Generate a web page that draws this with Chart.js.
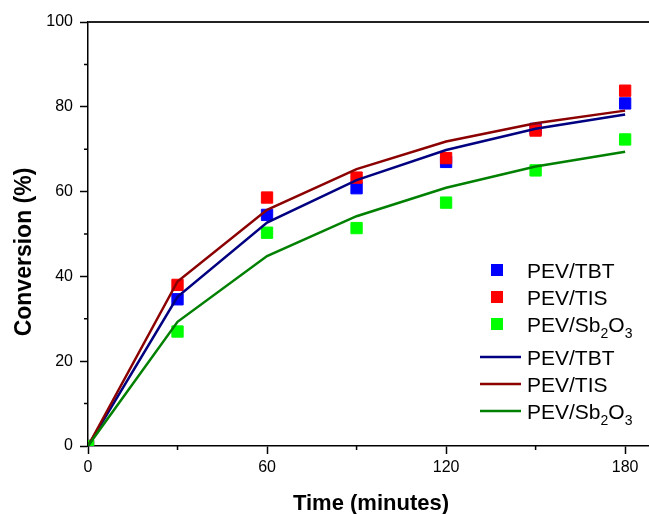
<!DOCTYPE html>
<html><head><meta charset="utf-8">
<script src="https://cdn.jsdelivr.net/npm/chart.js@4.4.0/dist/chart.umd.min.js"></script>
<style>html,body{margin:0;padding:0;background:#fff}#wrap{width:649px;height:514px;position:relative}</style>
</head><body><div id="wrap"><canvas id="c"></canvas></div>
<script>
const times = [0, 30, 60, 90, 120, 150, 180];
const tbtPoints = [0, 34.6, 54.5, 60.8, 67.0, 74.8, 80.8];
const tisPoints = [0, 38.0, 58.6, 63.3, 67.9, 74.4, 83.8];
const sbPoints  = [0, 27.0, 50.3, 51.4, 57.4, 65.0, 72.3];
const tbtFit = [0, 35.2, 52.7, 62.7, 69.8, 74.8, 78.2];
const tisFit = [0, 38.8, 55.7, 65.3, 71.8, 76.1, 79.1];
const sbFit  = [0, 29.3, 44.8, 54.2, 60.9, 65.9, 69.4];
const xMajorTicks = [0, 60, 120, 180];
const xMinorTicks = [30, 90, 150];
const yMajorTicks = [0, 20, 40, 60, 80, 100];
const yMinorTicks = [10, 30, 50, 70, 90];
const seriesLabels = ['PEV/TBT', 'PEV/TIS', 'PEV/Sb_2O_3'];
const xTitle = 'Time (minutes)';
const yTitle = 'Conversion (%)';

const pointColors = ['#0000FF', '#FF0000', '#00FF00'];
const lineColors = ['#000080', '#8B0000', '#008000'];
const FONT = '"Liberation Sans", Arial, sans-serif';

const toXY = ys => times.map((t, i) => ({x: t, y: ys[i]}));

function pts(label, ys, color, order) {
  return {type: 'scatter', label, data: toXY(ys), order,
    pointStyle: 'rect', pointRadius: 8, pointHoverRadius: 8,
    backgroundColor: color, borderColor: color, pointBorderWidth: 1, showLine: false};
}
function ln(label, ys, color, order) {
  return {type: 'line', label, data: toXY(ys), order,
    borderColor: color, backgroundColor: color, borderWidth: 2.5,
    pointRadius: 0, pointHoverRadius: 0, tension: 0, fill: false};
}

function drawLabel(ctx, text, x, y, size) {
  // '_d' marks a subscript character
  let cx = x;
  for (let i = 0; i < text.length; i++) {
    let ch = text[i], sub = false;
    if (ch === '_' && i + 1 < text.length) { ch = text[++i]; sub = true; }
    ctx.font = (sub ? Math.round(size * 0.68) : size) + 'px ' + FONT;
    ctx.fillText(ch, cx, sub ? y + 6 : y);
    cx += ctx.measureText(ch).width;
  }
}

const extras = {
  id: 'extras',
  afterDraw(chart) {
    const ctx = chart.ctx, xs = chart.scales.x, ys = chart.scales.y, a = chart.chartArea;
    ctx.save();
    // top frame
    ctx.strokeStyle = '#222'; ctx.lineWidth = 2;
    ctx.beginPath(); ctx.moveTo(a.left, a.top); ctx.lineTo(chart.width, a.top); ctx.stroke();
    // minor ticks
    ctx.strokeStyle = '#000'; ctx.lineWidth = 1.5;
    ctx.beginPath();
    xMinorTicks.forEach(v => { const p = xs.getPixelForValue(v); ctx.moveTo(p, a.bottom); ctx.lineTo(p, a.bottom + 4); });
    yMinorTicks.forEach(v => { const p = ys.getPixelForValue(v); ctx.moveTo(a.left, p); ctx.lineTo(a.left - 4, p); });
    ctx.stroke();
    // axis titles
    ctx.fillStyle = '#000';
    ctx.textAlign = 'center'; ctx.textBaseline = 'alphabetic';
    ctx.font = 'bold 22px ' + FONT;
    ctx.fillText(xTitle, 371, 510);
    ctx.save();
    ctx.translate(31, 252); ctx.rotate(-Math.PI / 2);
    ctx.font = 'bold 23px ' + FONT;
    ctx.fillText(yTitle, 0, 0);
    ctx.restore();
    // legend
    ctx.textAlign = 'left';
    const rowsP = [270, 297, 324], rowsL = [357, 384, 411];
    seriesLabels.forEach((lab, i) => {
      ctx.fillStyle = pointColors[i];
      ctx.fillRect(491, rowsP[i] - 6, 12, 12);
      ctx.fillStyle = '#000';
      drawLabel(ctx, lab, 527, rowsP[i] + 7.5, 21);
    });
    seriesLabels.forEach((lab, i) => {
      ctx.strokeStyle = lineColors[i]; ctx.lineWidth = 2.5;
      ctx.beginPath(); ctx.moveTo(480, rowsL[i]); ctx.lineTo(521, rowsL[i]); ctx.stroke();
      ctx.fillStyle = '#000';
      drawLabel(ctx, lab, 527, rowsL[i] + 7.5, 21);
    });
    ctx.restore();
  }
};

new Chart(document.getElementById('c'), {
  type: 'scatter',
  data: {datasets: [
    pts(seriesLabels[0], tbtPoints, pointColors[0], 6),
    pts(seriesLabels[1], tisPoints, pointColors[1], 5),
    pts(seriesLabels[2], sbPoints, pointColors[2], 4),
    ln(seriesLabels[0], tbtFit, lineColors[0], 3),
    ln(seriesLabels[1], tisFit, lineColors[1], 2),
    ln(seriesLabels[2], sbFit, lineColors[2], 1)
  ]},
  options: {
    responsive: true, maintainAspectRatio: false, animation: false,
    layout: {autoPadding: false, padding: {top: 22, right: 0, left: 0, bottom: 0}},
    plugins: {legend: {display: false}, tooltip: {enabled: false}},
    scales: {
      x: {type: 'linear', min: 0, max: 188,
        afterBuildTicks: s => { s.ticks = xMajorTicks.map(v => ({value: v})); },
        afterFit: s => { s.height = 68; s.paddingLeft = 0; s.paddingRight = 0; },
        grid: {drawOnChartArea: false, drawTicks: true, tickLength: 8, tickColor: '#000', tickWidth: 1.5},
        border: {color: '#000', width: 1.5},
        ticks: {color: '#000', font: {family: FONT, size: 16}, padding: 4, maxRotation: 0}
      },
      y: {type: 'linear', min: 0, max: 100,
        afterBuildTicks: s => { s.ticks = yMajorTicks.map(v => ({value: v})); },
        afterFit: s => { s.width = 88; s.paddingTop = 0; s.paddingBottom = 0; },
        grid: {drawOnChartArea: false, drawTicks: true, tickLength: 8, tickColor: '#000', tickWidth: 1.5},
        border: {color: '#000', width: 1.5},
        ticks: {color: '#000', font: {family: FONT, size: 16}, padding: 7}
      }
    }
  },
  plugins: [extras]
});
</script></body></html>
